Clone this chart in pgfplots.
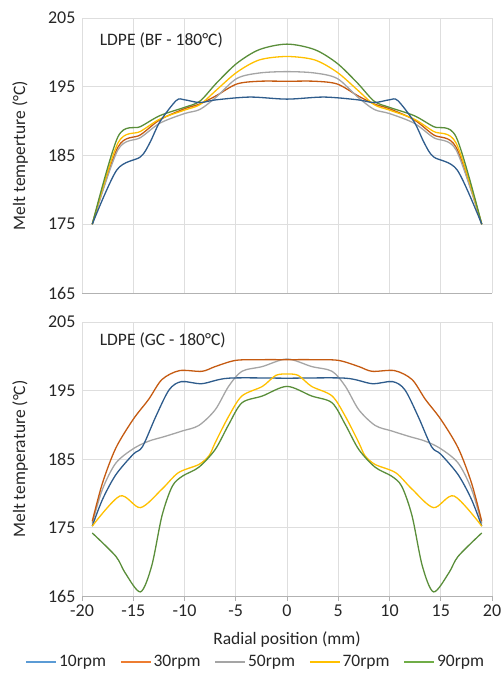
\documentclass[border=0pt]{standalone}
\usepackage{fontspec}
\setmainfont{Carlito}
\usepackage{pgfplots}
\pgfplotsset{compat=1.18}
\definecolor{lblue}{HTML}{2E5C8C}
\definecolor{lorange}{HTML}{C55A11}
\definecolor{lgrey}{HTML}{A5A5A5}
\definecolor{lyellow}{HTML}{FFC000}
\definecolor{lgreen}{HTML}{5A8E3A}
\definecolor{gblue}{HTML}{5B9BD5}
\definecolor{gorange}{HTML}{ED7D31}
\definecolor{ggreen}{HTML}{70AD47}
\definecolor{txt}{HTML}{262626}
\newcommand\fs{\fontsize{17.5}{20}\selectfont}
\newcommand\ft{\fontsize{18}{20}\selectfont}
\pgfplotsset{
  base/.style={
    scale only axis, width=410pt,
    xmin=-20, xmax=20, ymin=165, ymax=205,
    xtick={-20,-15,...,20}, ytick={165,175,185,195,205},
    grid=major, major grid style={draw=black!13, line width=0.6pt},
    axis lines*=left,
    x axis line style={draw=black!30, line width=0.8pt},
    y axis line style={draw=none},
    ytick style={draw=none},
    tick label style={font=\ft, text=txt},
    label style={font=\fs, text=txt},
    /pgf/number format/assume math mode=true,
    yticklabel style={xshift=-3pt},
    every axis plot/.append style={smooth, tension=0.5, line width=1.3pt, no markers},
    ylabel style={at={(axis description cs:-0.151,0.5)}, anchor=center},
  }
}
\begin{document}
\begin{tikzpicture}
\path[use as bounding box] (0pt,0pt) rectangle (502pt,-676pt);
% ---------- top: BF ----------
\begin{axis}[base, height=275pt, at={(82pt,-293pt)}, anchor=south west,
  ylabel={Melt temperture (°C)},
  xticklabels={}, xtick style={draw=none}]
\addplot[lorange] coordinates {(-19,175)(-16.5,186.2)(-14.3,188.0)(-12.4,190.2)(-10,191.8)(-8.5,192.5)(-6.9,193.7)(-4.9,195.4)(-2.7,195.8)(0,195.8)(2.7,195.8)(4.9,195.4)(6.9,193.7)(8.5,192.5)(10,191.8)(12.4,190.2)(14.3,188.0)(16.5,186.2)(19,175)};
\addplot[lgrey] coordinates {(-19,175)(-16.5,185.8)(-14.3,187.6)(-12.4,189.7)(-10,191.1)(-8.5,191.7)(-6.9,193.5)(-4.9,196.2)(-2.7,197.0)(0,197.2)(2.7,197.0)(4.9,196.2)(6.9,193.5)(8.5,191.7)(10,191.1)(12.4,189.7)(14.3,187.6)(16.5,185.8)(19,175)};
\addplot[lyellow] coordinates {(-19,175)(-16.5,186.8)(-14.3,188.5)(-12.4,190.3)(-10,191.6)(-8.5,192.4)(-6.9,194.5)(-4.9,197.1)(-2.7,198.9)(0,199.4)(2.7,198.9)(4.9,197.1)(6.9,194.5)(8.5,192.4)(10,191.6)(12.4,190.3)(14.3,188.5)(16.5,186.8)(19,175)};
\addplot[lgreen] coordinates {(-19,175)(-16.5,187.7)(-14.3,189.2)(-12.4,190.8)(-10,192.0)(-8.5,192.9)(-6.9,195.5)(-4.9,198.4)(-2.7,200.4)(0,201.2)(2.7,200.4)(4.9,198.4)(6.9,195.5)(8.5,192.9)(10,192.0)(12.4,190.8)(14.3,189.2)(16.5,187.7)(19,175)};
\addplot[lblue] coordinates {(-19,175)(-16.6,182.9)(-14.3,184.8)(-13.4,186.8)(-12.4,189.9)(-10.8,193.0)(-10,193.1)(-8.5,192.7)(-6.9,193.1)(-3.6,193.5)(0,193.2)(3.6,193.5)(6.9,193.1)(8.5,192.7)(10,193.1)(10.8,193.0)(12.4,189.9)(13.4,186.8)(14.3,184.8)(16.6,182.9)(19,175)};
\node[anchor=west, font=\fs, text=txt] at (axis cs:-18.6,201.8) {LDPE (BF - 180°C)};
\end{axis}
% ---------- bottom: GC ----------
\begin{axis}[base, height=274pt, at={(82pt,-596pt)}, anchor=south west,
  ylabel={Melt temperature (°C)},
  xticklabels={{-20},{-15},{-10},{-5},0,5,10,15,20},
  xtick style={draw=black!30, line width=0.8pt},
  xtick align=outside, major tick length=5pt,
  xlabel={Radial position (mm)},
  xlabel style={at={(axis description cs:0.5,-0.16)}, anchor=center},
  legend columns=5,
  legend style={draw=none, fill=none, font=\fs, text=txt, at={(0.424,-0.241)}, anchor=center,
    /tikz/every even column/.append style={column sep=12pt}},
  legend image code/.code={\draw[#1, line width=1.5pt] (0pt,0pt) -- (30pt,0pt);}]
\addlegendimage{gblue}\addlegendentry{10rpm}
\addlegendimage{gorange}\addlegendentry{30rpm}
\addlegendimage{lgrey}\addlegendentry{50rpm}
\addlegendimage{lyellow}\addlegendentry{70rpm}
\addlegendimage{ggreen}\addlegendentry{90rpm}
\addplot[lgrey, forget plot] coordinates {(-19,175.6)(-18,180.6)(-16.7,184.4)(-15,186.5)(-13.5,187.6)(-11.9,188.3)(-10.2,189.1)(-8.6,189.9)(-7,192.2)(-5.7,195.6)(-4.4,197.8)(-2.4,198.5)(0,199.6)(2.4,198.5)(4.4,197.8)(5.7,195.6)(7,192.2)(8.6,189.9)(10.2,189.1)(11.9,188.3)(13.5,187.6)(15,186.5)(16.7,184.4)(18,180.6)(19,175.6)};
\addplot[lblue, forget plot] coordinates {(-19,175.2)(-18,179.1)(-16.7,182.7)(-15,185.7)(-14.1,186.8)(-12.8,191.2)(-11.5,195.1)(-10.3,196.3)(-8.3,196.0)(-5.7,196.8)(0,196.8)(5.7,196.8)(8.3,196.0)(10.3,196.3)(11.5,195.1)(12.8,191.2)(14.1,186.8)(15,185.7)(16.7,182.7)(18,179.1)(19,175.2)};
\addplot[lorange, forget plot] coordinates {(-19,175.9)(-18,181.5)(-16.7,186.6)(-15,190.8)(-13.5,193.7)(-12.2,196.6)(-10.5,197.9)(-8.3,197.8)(-7,198.5)(-5,199.4)(-2.5,199.5)(0,199.5)(2.5,199.5)(5,199.4)(7,198.5)(8.3,197.8)(10.5,197.9)(12.2,196.6)(13.5,193.7)(15,190.8)(16.7,186.6)(18,181.5)(19,175.9)};
\addplot[lyellow, forget plot] coordinates {(-19,175.2)(-16.3,179.6)(-14.3,177.9)(-12.2,180.6)(-10.6,183.0)(-8.6,184.2)(-7.6,185.5)(-7,187.4)(-5.7,191.2)(-4.4,194.2)(-2.4,195.6)(-1.1,197.2)(0,197.4)(1.1,197.2)(2.4,195.6)(4.4,194.2)(5.7,191.2)(7,187.4)(7.6,185.5)(8.6,184.2)(10.6,183.0)(12.2,180.6)(14.3,177.9)(16.3,179.6)(19,175.2)};
\addplot[lgreen, forget plot] coordinates {(-19,174.2)(-16.7,170.8)(-15.8,168.4)(-14.3,165.6)(-13.2,169.4)(-12.2,176.7)(-11.2,181.0)(-10.2,182.5)(-8.6,183.8)(-7,186.4)(-5.7,190.0)(-4.4,193.2)(-2.4,194.2)(0,195.6)(2.4,194.2)(4.4,193.2)(5.7,190.0)(7,186.4)(8.6,183.8)(10.2,182.5)(11.2,181.0)(12.2,176.7)(13.2,169.4)(14.3,165.6)(15.8,168.4)(16.7,170.8)(19,174.2)};
\node[anchor=west, font=\fs, text=txt] at (axis cs:-18.6,202.4) {LDPE (GC - 180°C)};
\end{axis}
\end{tikzpicture}
\end{document}
